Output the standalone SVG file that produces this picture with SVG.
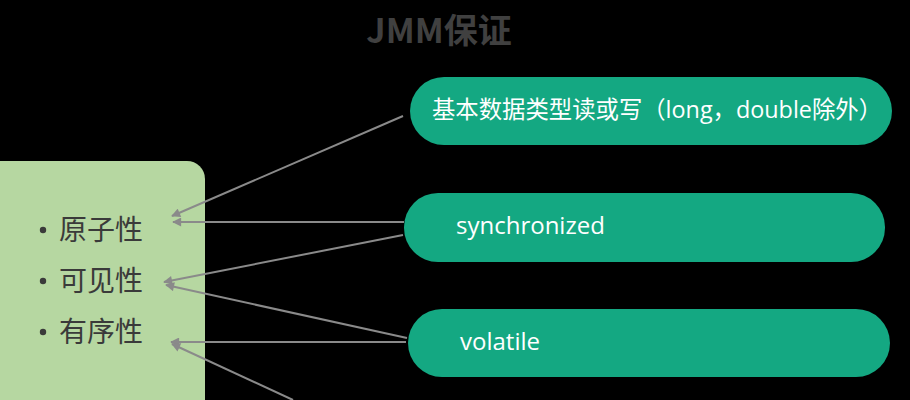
<svg xmlns="http://www.w3.org/2000/svg" width="910" height="400" viewBox="0 0 910 400">
<defs>
<style>
.node rect{fill:#14a882}
.node text{fill:#ffffff;font-family:"Open Sans","Noto Sans CJK SC",sans-serif;font-size:24px}
.cjk{font-family:"Noto Sans CJK SC",sans-serif}
.conn line{stroke:#8a8a8a;stroke-width:2;fill:none;marker-end:url(#arr)}
.item{fill:#3a3a3a;font-family:"Noto Sans CJK SC",sans-serif;font-size:28px}
</style>
<marker id="arr" viewBox="0 0 10 10" refX="9" refY="5" markerWidth="5" markerHeight="4.5" orient="auto" markerUnits="strokeWidth">
<path d="M0,0 L10,5 L0,10 z" fill="#8a8a8a"/>
</marker>
</defs>
<rect width="910" height="400" fill="#000000"/>
<text x="439" y="43" text-anchor="middle" font-family="Noto Sans CJK SC, sans-serif" font-weight="bold" font-size="34" fill="#404040">JMM保证</text>
<g id="props">
<rect x="-20" y="161" width="225" height="260" rx="18" fill="#b6d7a1"/>
<circle cx="43" cy="230" r="3.2" fill="#3a3a3a"/>
<text class="item" x="59" y="240">原子性</text>
<circle cx="43" cy="281" r="3.2" fill="#3a3a3a"/>
<text class="item" x="59" y="291">可见性</text>
<circle cx="43" cy="332" r="3.2" fill="#3a3a3a"/>
<text class="item" x="59" y="342">有序性</text>
</g>
<g id="basic" class="node">
<rect x="410" y="77" width="482" height="68" rx="34"/>
<text x="432" y="118" class="cjk" font-size="23" textLength="450" lengthAdjust="spacingAndGlyphs">基本数据类型读或写（long，double除外）</text>
</g>
<g id="sync" class="node">
<rect x="404" y="193" width="481" height="69" rx="34"/>
<text x="456" y="234">synchronized</text>
</g>
<g id="volatile" class="node">
<rect x="408" y="309" width="482" height="68" rx="34"/>
<text x="460" y="350">volatile</text>
</g>
<g id="connectors" class="conn">
<line x1="403" y1="116" x2="172" y2="216"/>
<line x1="404" y1="222" x2="173" y2="222"/>
<line x1="403" y1="235" x2="164" y2="282"/>
<line x1="407" y1="338" x2="166" y2="285"/>
<line x1="406" y1="342" x2="171" y2="342"/>
<line x1="293" y1="400" x2="172" y2="344"/>
</g>
</svg>
